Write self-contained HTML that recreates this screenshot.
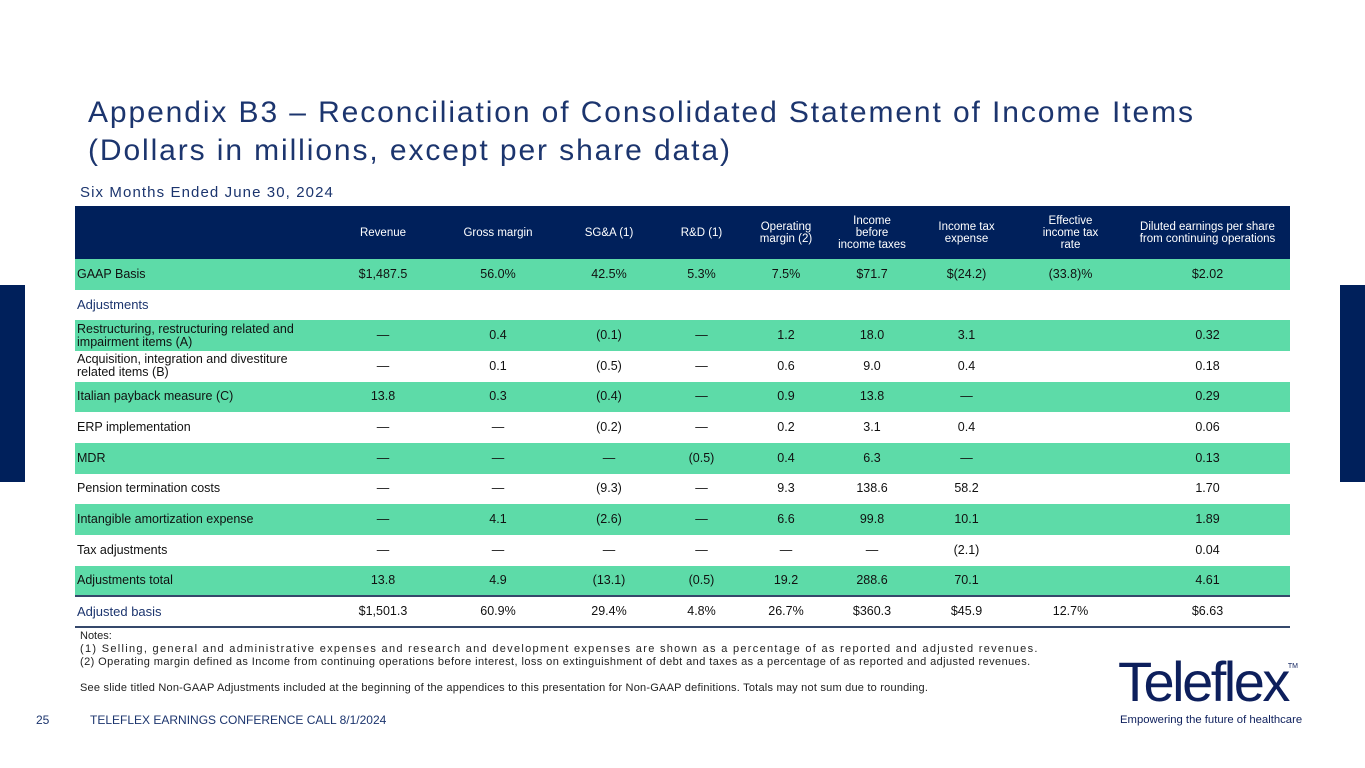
<!DOCTYPE html>
<html><head><meta charset="utf-8"><style>
*{margin:0;padding:0;box-sizing:border-box}
body{width:1365px;height:768px;position:relative;background:#fff;font-family:"Liberation Sans",sans-serif;overflow:hidden;color:#111}
.abs{position:absolute}
h1{position:absolute;left:88px;top:94px;font-size:30px;font-weight:normal;color:#1c356e;line-height:38px;letter-spacing:1.9px;white-space:nowrap}
.sub{left:80px;top:184px;font-size:15px;color:#1c356e;letter-spacing:1.1px}
table{position:absolute;left:75px;top:206px;width:1215px;border-collapse:collapse;table-layout:fixed;font-size:12.5px}
td{text-align:center;vertical-align:middle;height:30.67px;padding:0;line-height:13px}
td:first-child{text-align:left;padding-left:2px}
tr.hd td{background:#00205b;color:#fff;height:53px;font-size:11.5px;line-height:12px}
tr.g td{background:#5ddba8}
tr.sec td{color:#1c356e;font-size:13px}
tr.tot td{border-bottom:2px solid #35486b}
tr.adj td{border-bottom:2px solid #35486b;color:#1c356e;font-size:13px}
tr.adj td+td{color:#111;font-size:12.5px}
.notes{left:80px;top:630px;font-size:11px;line-height:13px;color:#222;white-space:nowrap}
.foot{top:713px;font-size:12px;color:#1c356e}
.bar{background:#00205b;top:285px;height:197px;width:25px}
</style></head><body>
<div class="abs bar" style="left:0"></div>
<div class="abs bar" style="left:1340px"></div>
<h1>Appendix B3 – Reconciliation of Consolidated Statement of Income Items<br>(Dollars in millions, except per share data)</h1>
<div class="abs sub">Six Months Ended June 30, 2024</div>
<table>
<colgroup><col style="width:255px"><col style="width:106px"><col style="width:124px"><col style="width:98px"><col style="width:87px"><col style="width:82px"><col style="width:90px"><col style="width:99px"><col style="width:109px"><col style="width:165px"></colgroup>
<tr class="hd"><td></td><td>Revenue</td><td>Gross margin</td><td>SG&amp;A (1)</td><td>R&amp;D (1)</td><td>Operating<br>margin (2)</td><td>Income<br>before<br>income taxes</td><td>Income tax<br>expense</td><td>Effective<br>income tax<br>rate</td><td>Diluted earnings per share<br>from continuing operations</td></tr>
<tr class="g"><td>GAAP Basis</td><td>$1,487.5</td><td>56.0%</td><td>42.5%</td><td>5.3%</td><td>7.5%</td><td>$71.7</td><td>$(24.2)</td><td>(33.8)%</td><td>$2.02</td></tr>
<tr class="sec"><td>Adjustments</td><td></td><td></td><td></td><td></td><td></td><td></td><td></td><td></td><td></td></tr>
<tr class="g"><td>Restructuring, restructuring related and<br>impairment items (A)</td><td>—</td><td>0.4</td><td>(0.1)</td><td>—</td><td>1.2</td><td>18.0</td><td>3.1</td><td></td><td>0.32</td></tr>
<tr><td>Acquisition, integration and divestiture<br>related items (B)</td><td>—</td><td>0.1</td><td>(0.5)</td><td>—</td><td>0.6</td><td>9.0</td><td>0.4</td><td></td><td>0.18</td></tr>
<tr class="g"><td>Italian payback measure (C)</td><td>13.8</td><td>0.3</td><td>(0.4)</td><td>—</td><td>0.9</td><td>13.8</td><td>—</td><td></td><td>0.29</td></tr>
<tr><td>ERP implementation</td><td>—</td><td>—</td><td>(0.2)</td><td>—</td><td>0.2</td><td>3.1</td><td>0.4</td><td></td><td>0.06</td></tr>
<tr class="g"><td>MDR</td><td>—</td><td>—</td><td>—</td><td>(0.5)</td><td>0.4</td><td>6.3</td><td>—</td><td></td><td>0.13</td></tr>
<tr><td>Pension termination costs</td><td>—</td><td>—</td><td>(9.3)</td><td>—</td><td>9.3</td><td>138.6</td><td>58.2</td><td></td><td>1.70</td></tr>
<tr class="g"><td>Intangible amortization expense</td><td>—</td><td>4.1</td><td>(2.6)</td><td>—</td><td>6.6</td><td>99.8</td><td>10.1</td><td></td><td>1.89</td></tr>
<tr><td>Tax adjustments</td><td>—</td><td>—</td><td>—</td><td>—</td><td>—</td><td>—</td><td>(2.1)</td><td></td><td>0.04</td></tr>
<tr class="g tot"><td>Adjustments total</td><td>13.8</td><td>4.9</td><td>(13.1)</td><td>(0.5)</td><td>19.2</td><td>288.6</td><td>70.1</td><td></td><td>4.61</td></tr>
<tr class="adj"><td>Adjusted basis</td><td>$1,501.3</td><td>60.9%</td><td>29.4%</td><td>4.8%</td><td>26.7%</td><td>$360.3</td><td>$45.9</td><td>12.7%</td><td>$6.63</td></tr>
</table>
<div class="abs notes">Notes:<br><span style="letter-spacing:1.3px">(1) Selling, general and administrative expenses and research and development expenses are shown as a percentage of as reported and adjusted revenues.</span><br><span style="letter-spacing:0.42px">(2) Operating margin defined as Income from continuing operations before interest, loss on extinguishment of debt and taxes as a percentage of as reported and adjusted revenues.</span><br><br><span style="letter-spacing:0.22px">See slide titled Non-GAAP Adjustments included at the beginning of the appendices to this presentation for Non-GAAP definitions. Totals may not sum due to rounding.</span></div>
<div class="abs foot" style="left:36px">25</div>
<div class="abs foot" style="left:90px">TELEFLEX EARNINGS CONFERENCE CALL 8/1/2024</div>
<div class="abs" style="left:1118px;top:652px;font-size:56px;color:#0d1f5c;letter-spacing:-2.5px;line-height:60px">Teleflex<span style="font-size:7px;vertical-align:top;letter-spacing:0;line-height:30px">TM</span></div>
<div class="abs" style="left:1120px;top:714px;font-size:11.3px;color:#0d1f5c">Empowering the future of healthcare</div>
</body></html>
